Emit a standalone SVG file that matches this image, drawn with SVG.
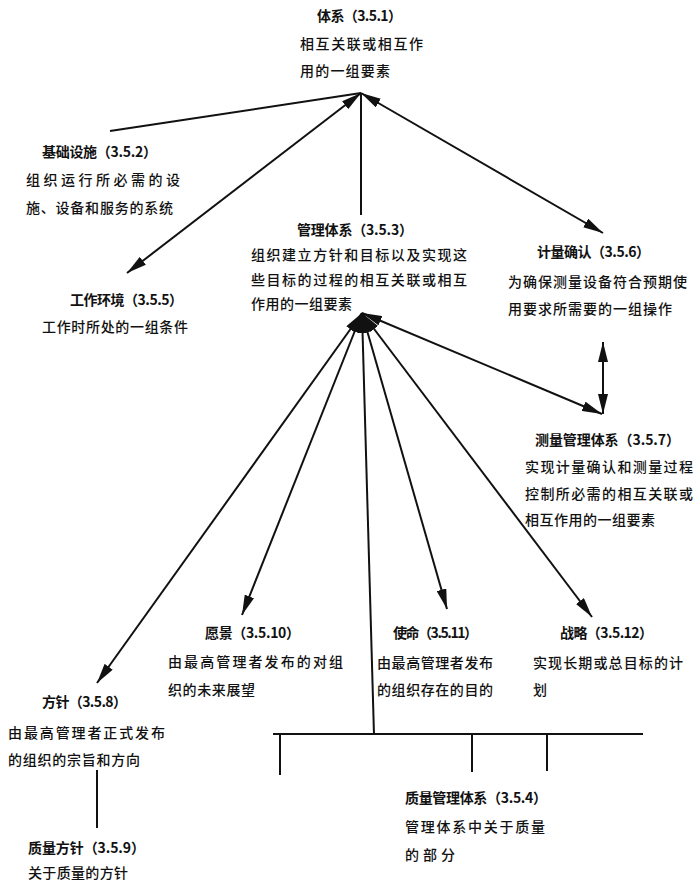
<svg xmlns="http://www.w3.org/2000/svg" width="700" height="888" viewBox="0 0 700 888">
<defs>
<style>
text{font-family:"Noto Sans CJK SC","Noto Sans",sans-serif;font-size:14px;fill:#111;}
.t{font-weight:700;}
.b{font-weight:500;}
.ln{stroke:#111;stroke-width:2;fill:none;}
.a2{marker-start:url(#ah);marker-end:url(#ah);}
.a1{marker-start:url(#ah);}
</style>
<marker id="ah" viewBox="0 0 20 10" refX="20" refY="5" markerWidth="20" markerHeight="10" markerUnits="userSpaceOnUse" orient="auto-start-reverse">
<path d="M0,0 L20,5 L0,10 Z" fill="#111"/>
</marker>
</defs>
<rect width="700" height="888" fill="#fff"/>
<g id="connectors">
<line class="ln" x1="110" y1="131" x2="361" y2="93"/>
<line class="ln a2" x1="127" y1="273" x2="361" y2="93"/>
<line class="ln" x1="361" y1="93" x2="361" y2="215"/>
<line class="ln a2" x1="361" y1="93" x2="603" y2="233"/>
<line class="ln a2" x1="97" y1="683" x2="362" y2="313"/>
<line class="ln a2" x1="242" y1="615" x2="362" y2="313"/>
<line class="ln a1" x1="362" y1="313" x2="374" y2="735"/>
<line class="ln a2" x1="447" y1="609" x2="362" y2="313"/>
<line class="ln a2" x1="592" y1="617" x2="362" y2="313"/>
<line class="ln a2" x1="362" y1="313" x2="602" y2="414"/>
<line class="ln a2" x1="603" y1="342" x2="603" y2="414"/>
<line class="ln" x1="97" y1="770" x2="97" y2="828"/>
<line class="ln" x1="273" y1="734" x2="643" y2="734"/>
<line class="ln" x1="280" y1="734" x2="280" y2="775"/>
<line class="ln" x1="472" y1="734" x2="472" y2="772"/>
<line class="ln" x1="547" y1="734" x2="547" y2="771"/>
</g>
<g id="n351">
<text class="t" x="317" y="21" textLength="85" lengthAdjust="spacing">体系（3.5.1）</text>
<text class="b" x="300" y="49" textLength="123" lengthAdjust="spacing">相互关联或相互作</text>
<text class="b" x="300" y="76" textLength="90" lengthAdjust="spacing">用的一组要素</text>
</g>
<g id="n352">
<text class="t" x="42" y="157" textLength="115" lengthAdjust="spacing">基础设施（3.5.2）</text>
<text class="b" x="26" y="185" textLength="154" lengthAdjust="spacing">组织运行所必需的设</text>
<text class="b" x="26" y="213" textLength="147" lengthAdjust="spacing">施、设备和服务的系统</text>
</g>
<g id="n355">
<text class="t" x="70" y="305" textLength="113" lengthAdjust="spacing">工作环境（3.5.5）</text>
<text class="b" x="42" y="332" textLength="146" lengthAdjust="spacing">工作时所处的一组条件</text>
</g>
<g id="n353">
<text class="t" x="297" y="235" textLength="116" lengthAdjust="spacing">管理体系（3.5.3）</text>
<text class="b" x="251" y="260" textLength="216" lengthAdjust="spacing">组织建立方针和目标以及实现这</text>
<text class="b" x="251" y="285" textLength="216" lengthAdjust="spacing">些目标的过程的相互关联或相互</text>
<text class="b" x="251" y="309" textLength="101" lengthAdjust="spacing">作用的一组要素</text>
</g>
<g id="n356">
<text class="t" x="537" y="257" textLength="113" lengthAdjust="spacing">计量确认（3.5.6）</text>
<text class="b" x="508" y="287" textLength="179" lengthAdjust="spacing">为确保测量设备符合预期使</text>
<text class="b" x="508" y="314" textLength="164" lengthAdjust="spacing">用要求所需要的一组操作</text>
</g>
<g id="n357">
<text class="t" x="535" y="445" textLength="145" lengthAdjust="spacing">测量管理体系（3.5.7）</text>
<text class="b" x="525" y="472" textLength="168" lengthAdjust="spacing">实现计量确认和测量过程</text>
<text class="b" x="525" y="499" textLength="168" lengthAdjust="spacing">控制所必需的相互关联或</text>
<text class="b" x="525" y="525" textLength="130" lengthAdjust="spacing">相互作用的一组要素</text>
</g>
<g id="n3510">
<text class="t" x="205" y="638" textLength="95" lengthAdjust="spacing">愿景（3.5.10）</text>
<text class="b" x="168" y="667" textLength="175" lengthAdjust="spacing">由最高管理者发布的对组</text>
<text class="b" x="168" y="695" textLength="87" lengthAdjust="spacing">织的未来展望</text>
</g>
<g id="n358">
<text class="t" x="42" y="707" textLength="85" lengthAdjust="spacing">方针（3.5.8）</text>
<text class="b" x="8" y="738" textLength="157" lengthAdjust="spacing">由最高管理者正式发布</text>
<text class="b" x="8" y="765" textLength="132" lengthAdjust="spacing">的组织的宗旨和方向</text>
</g>
<g id="n359">
<text class="t" x="28" y="853" textLength="117" lengthAdjust="spacing">质量方针（3.5.9）</text>
<text class="b" x="28" y="878" textLength="100" lengthAdjust="spacing">关于质量的方针</text>
</g>
<g id="n3511">
<text class="t" x="393" y="638" textLength="85" lengthAdjust="spacing">使命（3.5.11）</text>
<text class="b" x="377" y="668" textLength="116" lengthAdjust="spacing">由最高管理者发布</text>
<text class="b" x="377" y="695" textLength="116" lengthAdjust="spacing">的组织存在的目的</text>
</g>
<g id="n3512">
<text class="t" x="560" y="638" textLength="93" lengthAdjust="spacing">战略（3.5.12）</text>
<text class="b" x="533" y="668" textLength="150" lengthAdjust="spacing">实现长期或总目标的计</text>
<text class="b" x="533" y="695">划</text>
</g>
<g id="n354">
<text class="t" x="405" y="803" textLength="142" lengthAdjust="spacing">质量管理体系（3.5.4）</text>
<text class="b" x="405" y="832" textLength="140" lengthAdjust="spacing">管理体系中关于质量</text>
<text class="b" x="405" y="860" textLength="50" lengthAdjust="spacing">的部分</text>
</g>
</svg>
